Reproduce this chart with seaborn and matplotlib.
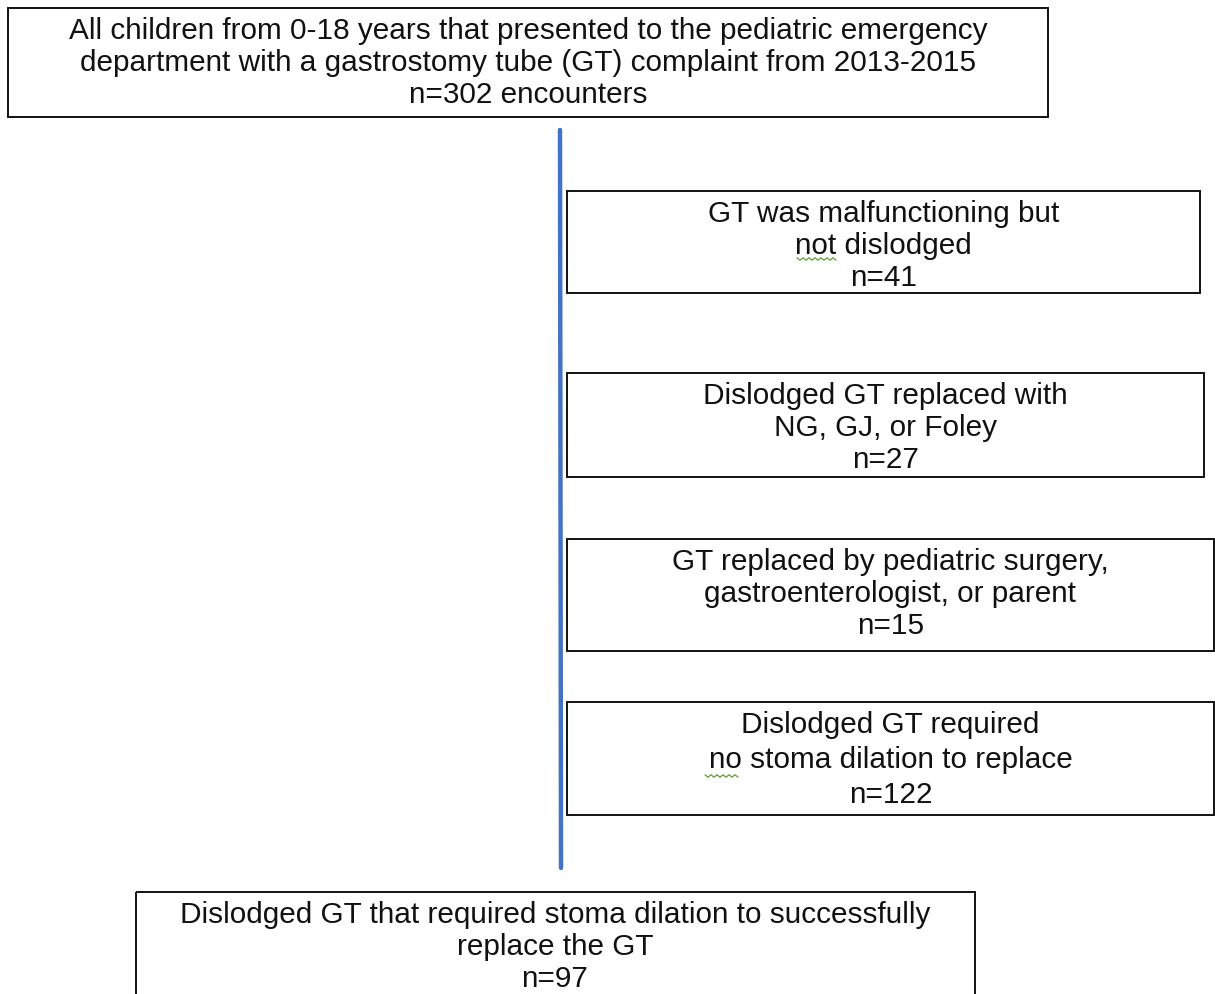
import matplotlib
matplotlib.use("Agg")
import matplotlib.pyplot as plt
from matplotlib.patches import Rectangle
import numpy as np
import seaborn as sns

# flowchart content
top_lines = ["All children from 0-18 years that presented to the pediatric emergency",
             "department with a gastrostomy tube (GT) complaint from 2013-2015"]
top_n = "n=302 encounters"

side_labels = [["GT was malfunctioning but", "not dislodged"],
               ["Dislodged GT replaced with", "NG, GJ, or Foley"],
               ["GT replaced by pediatric surgery,", "gastroenterologist, or parent"],
               ["Dislodged GT required", "no stoma dilation to replace"]]
side_n = [41, 27, 15, 122]

bottom_lines = ["Dislodged GT that required stoma dilation to successfully", "replace the GT"]
bottom_n = 97

# layout (pixel space of the 1215x994 canvas)
side_boxes = [(567, 191, 1200, 293), (567, 373, 1204, 477),
              (567, 539, 1214, 651), (567, 702, 1214, 815)]
side_step = [32, 32, 32, 35]
top_box = (8, 8, 1048, 117)
bottom_box = (136, 892, 975, 1010)

sns.set_theme(style="white")
plt.rcParams['font.family'] = ['Liberation Sans', 'DejaVu Sans']

fig = plt.figure(figsize=(12.15, 9.94), dpi=100)
ax = fig.add_axes([0, 0, 1, 1])
ax.set_xlim(0, 1215)
ax.set_ylim(994, 0)
ax.axis("off")

FS = 21.4


def draw_box(box, lines, step=32, cx=None, fs=FS):
    x0, y0, x1, y1 = box
    ax.add_patch(Rectangle((x0, y0), x1 - x0, y1 - y0, fill=False,
                           edgecolor="#111111", linewidth=1.4))
    if cx is None:
        cx = (x0 + x1) / 2
    for i, t in enumerate(lines):
        ax.text(cx, y0 + 23 + i * step, t, ha="center", va="center",
                fontsize=fs, color="#111111")


def squiggle(xa, xb, y):
    xs = np.arange(xa, xb + 1, 3)
    ys = y + np.where(np.arange(len(xs)) % 2 == 0, -1.2, 1.2)
    ax.plot(xs, ys, color="#5a9e3a", linewidth=0.9)


# connector line
sns.lineplot(x=[560, 561], y=[130, 868], ax=ax, color="#4472C4",
             linewidth=3.2, sort=False)

draw_box(top_box, top_lines + [top_n], fs=FS)
for box, lab, n, st in zip(side_boxes, side_labels, side_n, side_step):
    draw_box(box, lab + ["n=%d" % n], step=st)
draw_box(bottom_box, bottom_lines + ["n=%d" % bottom_n], cx=555)

# spell-check marks from the source document
squiggle(797, 838, 259)
squiggle(705, 738, 776)

fig.savefig("out.png", dpi=100, facecolor="white")
